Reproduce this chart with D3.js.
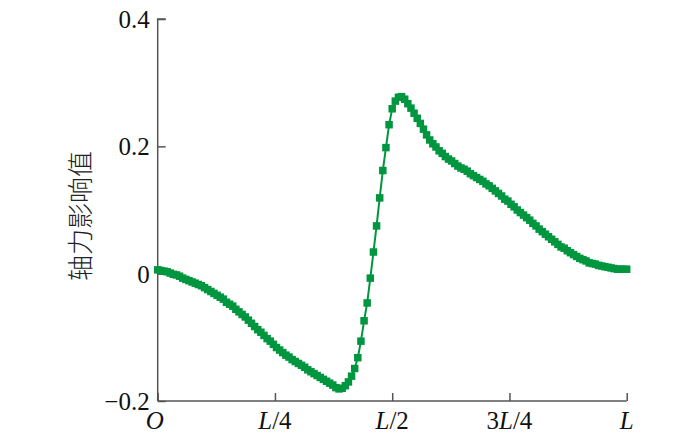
<!DOCTYPE html>
<html>
<head>
<meta charset="utf-8">
<script src="https://cdn.jsdelivr.net/npm/d3@7"></script>
<style>
  html, body { margin: 0; padding: 0; background: #fff; }
  svg { display: block; }
</style>
</head>
<body>
<svg id="chart" width="700" height="439"></svg>
<script>
// ---- data ----
// influence values at 151 equally spaced sections, O ... L
const influence = [
  0.006, 0.005, 0.004, 0.003, 0.001, -0.001, -0.002, -0.004, -0.007, -0.009,
  -0.011, -0.013, -0.015, -0.017, -0.019, -0.022, -0.025, -0.028, -0.031, -0.034,
  -0.037, -0.040, -0.045, -0.048, -0.051, -0.056, -0.060, -0.064, -0.068, -0.073,
  -0.078, -0.083, -0.088, -0.092, -0.097, -0.102, -0.106, -0.111, -0.116, -0.120,
  -0.124, -0.128, -0.131, -0.135, -0.138, -0.141, -0.144, -0.147, -0.151, -0.154,
  -0.157, -0.160, -0.163, -0.166, -0.169, -0.172, -0.175, -0.179, -0.181, -0.180,
  -0.176, -0.170, -0.161, -0.149, -0.132, -0.106, -0.074, -0.046, -0.007, 0.034,
  0.075, 0.119, 0.162, 0.198, 0.234, 0.259, 0.271, 0.277, 0.278, 0.274,
  0.267, 0.260, 0.252, 0.244, 0.236, 0.227, 0.218, 0.210, 0.204, 0.199,
  0.193, 0.189, 0.184, 0.180, 0.177, 0.173, 0.169, 0.166, 0.164, 0.161,
  0.157, 0.154, 0.151, 0.148, 0.145, 0.141, 0.138, 0.134, 0.130, 0.126,
  0.122, 0.117, 0.114, 0.109, 0.105, 0.100, 0.096, 0.092, 0.088, 0.084,
  0.079, 0.075, 0.070, 0.066, 0.062, 0.058, 0.054, 0.050, 0.046, 0.042,
  0.040, 0.036, 0.033, 0.030, 0.027, 0.024, 0.022, 0.020, 0.017, 0.016,
  0.015, 0.013, 0.012, 0.011, 0.010, 0.009, 0.008, 0.007, 0.007, 0.007,
  0.007
];
const yTickValues = [-0.2, 0, 0.2, 0.4];
const yTickLabels = ["\u22120.2", "0", "0.2", "0.4"];
const xTickValues = [0, 37.5, 75, 112.5, 150];          // section index
const xTickLabels = [                                      // [text, italic] runs
  [["O", true]],
  [["L", true], ["/4", false]],
  [["L", true], ["/2", false]],
  [["3", false], ["L", true], ["/4", false]],
  [["L", true]]
];
const yTitle = "轴力影响值";

// ---- layout ----
const svg = d3.select("#chart");
const x = d3.scaleLinear().domain([0, 150]).range([157.7, 626.7]);
const y = d3.scaleLinear().domain([-0.2, 0.4]).range([401, 19]);
const green = "#00963f";
const axisColor = "#555";
const serif = "'Liberation Serif', 'Times New Roman', serif";

// axes
const yAxis = d3.axisRight(y).tickValues(yTickValues).tickSize(8).tickFormat("");
const gy = svg.append("g").attr("transform", `translate(${x(0)},0)`).call(yAxis);
const xAxis = d3.axisTop(x).tickValues(xTickValues).tickSize(8).tickFormat("");
const gx = svg.append("g").attr("transform", `translate(0,${y(-0.2)})`).call(xAxis);
[gy, gx].forEach(g => {
  g.select(".domain").attr("stroke", axisColor).attr("stroke-width", 1.5);
  g.selectAll(".tick line").attr("stroke", axisColor).attr("stroke-width", 1.5);
});
gy.select(".domain").attr("d", `M8,${y(0.4)}H0V${y(-0.2)}H0`);
gx.select(".domain").attr("d", `M${x(0)},0H${x(150)}`);

// y tick labels
svg.append("g").selectAll("text").data(yTickValues).join("text")
  .attr("x", x(0) - 8)
  .attr("y", d => y(d) + 9)
  .attr("text-anchor", "end")
  .attr("font-family", serif).attr("font-size", 25).attr("fill", "#111")
  .text((d, i) => yTickLabels[i]);

// x tick labels
const xl = svg.append("g").selectAll("text").data(xTickValues).join("text")
  .attr("x", (d, i) => x(d) - (i === 0 ? 3 : 0))
  .attr("y", 429)
  .attr("text-anchor", "middle")
  .attr("font-family", serif).attr("font-size", 25).attr("fill", "#111");
xl.each(function(d, i) {
  const t = d3.select(this);
  xTickLabels[i].forEach(([s, it]) => {
    t.append("tspan").attr("font-style", it ? "italic" : "normal").text(s);
  });
});

// y title
svg.append("text")
  .attr("transform", `translate(90,216) rotate(-90)`)
  .attr("text-anchor", "middle")
  .attr("font-family", "'Noto Sans CJK SC', sans-serif")
  .attr("font-size", 26).attr("font-weight", 300).attr("fill", "#222")
  .text(yTitle);

// line
const line = d3.line().x((d, i) => x(i)).y(d => y(d));
svg.append("path").datum(influence)
  .attr("d", line).attr("fill", "none")
  .attr("stroke", green).attr("stroke-width", 2);

// square markers
const ms = 7.5;
svg.append("g").selectAll("rect").data(influence).join("rect")
  .attr("x", (d, i) => x(i) - ms / 2)
  .attr("y", d => y(d) - ms / 2)
  .attr("width", ms).attr("height", ms)
  .attr("fill", green);
</script>
</body>
</html>
